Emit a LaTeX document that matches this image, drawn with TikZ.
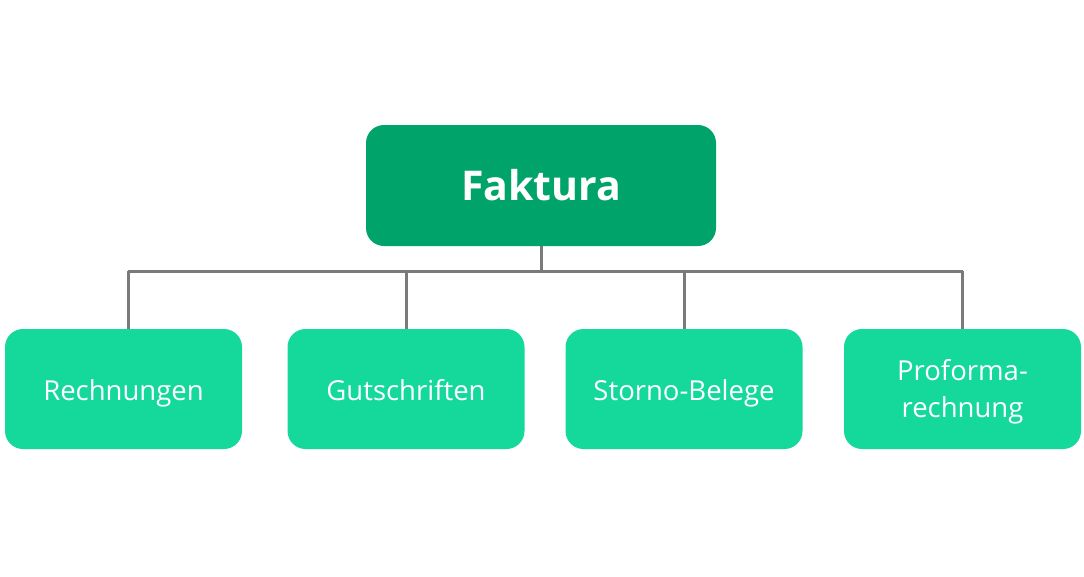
\documentclass[tikz,border=0pt]{standalone}
\usepackage{fontspec}
\setmainfont{Open Sans}
\definecolor{topgreen}{RGB}{0,164,106}
\definecolor{leafgreen}{RGB}{20,217,155}
\definecolor{linegray}{RGB}{122,122,122}
\begin{document}
\begin{tikzpicture}[x=1pt,y=-1pt,
  topbox/.style={fill=topgreen,rounded corners=18pt,minimum width=350pt,minimum height=121pt,text=white,font=\fontsize{41}{48}\selectfont\bfseries,inner sep=0pt,text height=30pt,text depth=1pt},
  leafbox/.style={fill=leafgreen,rounded corners=18pt,minimum width=237pt,minimum height=120pt,inner sep=0pt},
  leaftext/.style={text=white,font=\fontsize{27.5}{37}\selectfont,align=center,inner sep=0pt},
  conn/.style={draw=linegray,line width=3pt}]
\useasboundingbox (0,0) rectangle (1084,576);
\node[topbox] (top) at (541,185.5) {Faktura};
\node[leafbox,leaftext,text height=26pt,text depth=4pt] (a) at (123.5,389) {Rechnungen};
\node[leafbox,leaftext,text height=26pt,text depth=4pt] (b) at (406,389) {Gutschriften};
\node[leafbox,leaftext,text height=26pt,text depth=4pt] (c) at (684,389) {Storno-Belege};
\node[leafbox] (d) at (962.5,389) {};
\node[leaftext,yshift=-2.5pt] (dt) at (d.center) {Proforma-\\rechnung};
\coordinate (bus) at (541,271);
\coordinate (al) at (128,271);
\coordinate (ar) at (962.5,271);
\draw[conn] (top.south) -- (bus);
\draw[conn] (al) -- (ar);
\draw[conn] (al) -- (al |- a.north);
\draw[conn] (b.north) -- (b.north |- bus);
\draw[conn] (c.north) -- (c.north |- bus);
\draw[conn] (d.north) -- (d.north |- bus);
\end{tikzpicture}
\end{document}
